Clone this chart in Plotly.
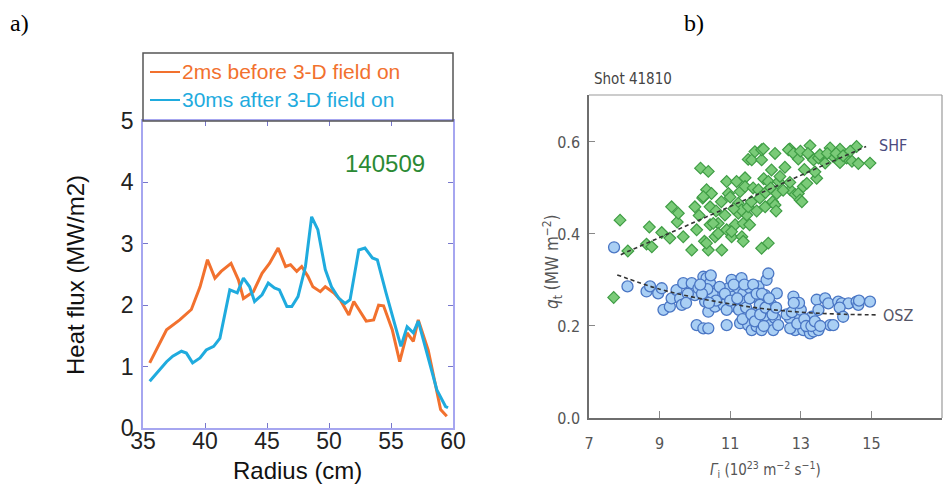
import plotly.graph_objects as go

W, H = 948, 484

# ---------------- Panel a data ----------------
radius_before = [35.54, 36.9, 37.96, 38.9, 39.6, 40.2, 40.8, 41.3, 42.1, 42.7, 43.1, 43.9, 44.6, 45.2,
                 45.9, 46.5, 46.9, 47.4, 47.8, 48.3, 48.7, 49.3, 49.7, 50.4, 50.9, 51.6, 52.0, 52.5,
                 53.0, 53.6, 54.0, 54.4, 55.1, 55.7, 56.3, 56.8, 57.2, 58.0, 59.0, 59.5]
flux_before = [1.06, 1.6, 1.76, 1.93, 2.30, 2.74, 2.44, 2.55, 2.68, 2.41, 2.11, 2.22, 2.52, 2.68,
               2.93, 2.63, 2.66, 2.55, 2.63, 2.47, 2.30, 2.22, 2.30, 2.20, 2.09, 1.84, 2.06, 1.90,
               1.74, 1.76, 2.0, 1.99, 1.60, 1.08, 1.55, 1.41, 1.76, 1.27, 0.30, 0.19]
radius_after = [35.54, 36.35, 36.9, 37.4, 38.1, 38.5, 39.0, 39.6, 40.1, 40.7, 41.2, 42.0, 42.6, 43.1,
                43.6, 44.0, 44.6, 45.1, 45.6, 46.0, 46.6, 47.0, 47.5, 48.1, 48.6, 49.1, 49.7, 50.2,
                50.8, 51.3, 51.7, 52.4, 52.9, 53.5, 53.9, 54.6, 55.1, 55.8, 56.3, 56.8, 57.2, 57.9,
                58.7, 59.4, 59.6]
flux_after = [0.76, 0.95, 1.08, 1.17, 1.25, 1.22, 1.06, 1.14, 1.27, 1.33, 1.46, 2.25, 2.20, 2.44,
              2.30, 2.06, 2.17, 2.36, 2.28, 2.25, 1.98, 1.98, 2.14, 2.63, 3.44, 3.23, 2.58, 2.30,
              2.11, 2.03, 2.09, 2.90, 2.93, 2.77, 2.74, 2.20, 1.82, 1.33, 1.65, 1.55, 1.74, 1.22,
              0.62, 0.35, 0.33]
name_before = "2ms before 3-D field on"
name_after = "30ms after 3-D field on"
shot_a = "140509"
xticks_a = [35, 40, 45, 50, 55, 60]
yticks_a = [0, 1, 2, 3, 4, 5]

# ---------------- Panel b data ----------------
shf_gamma = [7.70, 7.88, 8.10, 8.63, 8.71, 8.78, 9.06, 9.29, 9.34, 9.50, 9.53, 9.67, 9.91, 10.00,
             10.05, 10.16, 10.38, 10.22, 10.33, 10.47, 10.43, 10.27, 10.38, 10.43, 10.33, 10.24,
             10.12, 10.57, 10.66, 10.76, 10.85, 10.90, 10.95, 10.90, 11.04, 11.14, 11.18, 11.28,
             11.23, 11.33, 11.37, 11.42, 11.47, 11.51, 10.52, 10.66, 11.04, 11.23, 11.32, 11.37,
             11.42, 11.51, 10.60, 10.75, 11.00, 11.10, 11.60, 11.61, 11.65, 11.70, 11.75, 11.80,
             11.84, 11.89, 11.89, 11.94, 11.95, 11.99, 12.00, 12.08, 12.15, 12.17, 12.20, 12.27,
             12.27, 12.32, 12.37, 12.41, 11.89, 12.08, 12.69, 12.65, 12.79, 12.93, 12.99, 12.70,
             12.69, 12.84, 12.93, 12.98, 13.03, 13.07, 13.17, 13.26, 13.31, 13.36, 13.45, 13.50,
             13.54, 13.69, 13.83, 13.92, 14.11, 14.11, 14.30, 14.45, 14.58, 14.63, 14.96, 13.10,
             13.20, 12.55, 12.50, 13.40, 13.75, 14.00, 14.20, 14.40, 12.30, 11.55]
shf_q = [0.262, 0.430, 0.363, 0.378, 0.415, 0.372, 0.403, 0.391, 0.459, 0.426, 0.445, 0.394, 0.365,
         0.459, 0.409, 0.543, 0.536, 0.478, 0.496, 0.488, 0.459, 0.384, 0.365, 0.420, 0.380, 0.481,
         0.440, 0.394, 0.423, 0.365, 0.441, 0.514, 0.488, 0.409, 0.394, 0.420, 0.514, 0.492, 0.445,
         0.394, 0.384, 0.522, 0.441, 0.562, 0.423, 0.401, 0.405, 0.467, 0.452, 0.423, 0.503, 0.459,
         0.450, 0.470, 0.480, 0.455, 0.470, 0.561, 0.500, 0.579, 0.450, 0.496, 0.478, 0.561, 0.583,
         0.585, 0.520, 0.459, 0.490, 0.514, 0.500, 0.539, 0.470, 0.575, 0.463, 0.488, 0.514, 0.525,
         0.369, 0.380, 0.585, 0.583, 0.575, 0.563, 0.580, 0.496, 0.512, 0.486, 0.488, 0.474, 0.470,
         0.503, 0.510, 0.592, 0.567, 0.561, 0.521, 0.565, 0.572, 0.554, 0.587, 0.568, 0.584, 0.555,
         0.565, 0.558, 0.590, 0.553, 0.554, 0.540, 0.575, 0.545, 0.495, 0.535, 0.575, 0.575, 0.570,
         0.580, 0.450, 0.420]

osz_gamma = [7.71, 8.09, 8.63, 8.73, 8.96, 9.06, 9.11, 9.29, 9.34, 9.48, 9.58, 9.63, 9.67, 9.91,
             10.00, 10.05, 10.24, 10.38, 10.10, 10.24, 10.33, 10.43, 10.29, 10.38, 10.47, 10.57,
             10.62, 10.76, 10.81, 10.90, 10.95, 11.04, 11.09, 11.14, 11.23, 11.28, 11.32, 11.37,
             11.42, 11.47, 11.51, 11.56, 11.61, 11.66, 11.70, 11.75, 11.80, 11.84, 11.89, 11.94,
             11.99, 12.03, 12.08, 12.13, 12.17, 12.22, 12.27, 12.32, 12.36, 12.69, 12.79, 12.84,
             12.88, 12.98, 13.02, 13.07, 13.17, 13.21, 13.26, 13.31, 13.36, 13.45, 13.50, 13.50,
             13.69, 13.78, 13.83, 13.92, 14.06, 14.16, 14.35, 14.58, 14.63, 14.96,
             10.50, 10.60, 10.70, 10.85, 10.90, 11.00, 11.10, 11.20, 11.25, 11.35, 11.40, 11.45,
             11.55, 11.60, 11.65, 11.70, 11.75, 11.85, 11.90, 11.95, 12.00, 12.10, 12.20, 12.30,
             10.35, 10.40, 10.20, 10.15, 9.80, 9.75, 12.60, 12.70, 12.75, 12.90, 13.00, 13.10,
             13.15, 13.30, 13.40, 12.95, 13.55, 14.10, 14.65, 14.20, 12.80, 10.45]
osz_q = [0.371, 0.286, 0.275, 0.286, 0.271, 0.282, 0.235, 0.242, 0.260, 0.278, 0.260, 0.246, 0.293,
         0.293, 0.267, 0.202, 0.195, 0.195, 0.282, 0.307, 0.304, 0.293, 0.253, 0.231, 0.264, 0.242,
         0.278, 0.264, 0.246, 0.202, 0.282, 0.300, 0.264, 0.242, 0.282, 0.206, 0.304, 0.271, 0.253,
         0.220, 0.202, 0.282, 0.191, 0.264, 0.228, 0.199, 0.286, 0.246, 0.191, 0.217, 0.267, 0.300,
         0.314, 0.202, 0.246, 0.191, 0.217, 0.271, 0.202, 0.217, 0.264, 0.191, 0.242, 0.220, 0.206,
         0.191, 0.213, 0.195, 0.184, 0.220, 0.188, 0.257, 0.191, 0.235, 0.260, 0.249, 0.202, 0.202,
         0.253, 0.249, 0.249, 0.253, 0.246, 0.253,
         0.270, 0.255, 0.285, 0.270, 0.235, 0.255, 0.290, 0.260, 0.235, 0.215, 0.290, 0.240, 0.260,
         0.225, 0.290, 0.210, 0.270, 0.225, 0.270, 0.200, 0.240, 0.260, 0.225, 0.240, 0.280, 0.250,
         0.270, 0.290, 0.270, 0.250, 0.225, 0.195, 0.230, 0.205, 0.235, 0.215, 0.200, 0.200, 0.210,
         0.250, 0.200, 0.240, 0.255, 0.220, 0.250, 0.310]

shf_fit_gamma = [7.9, 14.85]
shf_fit_q = [0.355, 0.590]
osz_fit_gamma = [7.8, 9.0, 10.0, 11.0, 12.0, 13.0, 14.0, 15.2]
osz_fit_q = [0.311, 0.280, 0.262, 0.248, 0.237, 0.230, 0.226, 0.224]

xticks_b = [7, 9, 11, 13, 15, 17]
yticks_b = [0.0, 0.2, 0.4, 0.6]
ytick_text_b = ["0.0", "0.2", "0.4", "0.6"]
shot_b = "Shot 41810"

ORANGE = "#f2712e"
BLUE = "#1fabde"
GRAY_TXT = "#555555"
COND = "Liberation Sans Narrow, DejaVu Sans Condensed, Liberation Sans, Arial, sans-serif"
SANS = "Liberation Sans, Arial, sans-serif"


def px(x):
    return x / W


def py(y):
    return 1 - y / H


fig = go.Figure()

# Panel a lines
fig.add_trace(go.Scatter(x=radius_before, y=flux_before, mode="lines", name=name_before,
                         line=dict(color=ORANGE, width=3), xaxis="x", yaxis="y", showlegend=False))
fig.add_trace(go.Scatter(x=radius_after, y=flux_after, mode="lines", name=name_after,
                         line=dict(color=BLUE, width=3), xaxis="x", yaxis="y", showlegend=False))

# Panel b scatter
fig.add_trace(go.Scatter(x=shf_gamma, y=shf_q, mode="markers", name="SHF",
                         marker=dict(symbol="diamond", size=9, color="#7acb78",
                                     line=dict(color="#3f9d45", width=1.2)),
                         xaxis="x2", yaxis="y2", showlegend=False))
fig.add_trace(go.Scatter(x=osz_gamma, y=osz_q, mode="markers", name="OSZ",
                         marker=dict(symbol="circle", size=11, color="#a9cff4",
                                     line=dict(color="#4a76c4", width=1.3)),
                         xaxis="x2", yaxis="y2", showlegend=False))
fig.add_trace(go.Scatter(x=shf_fit_gamma, y=shf_fit_q, mode="lines",
                         line=dict(color="#333333", width=1.6, dash="4px,3px"),
                         xaxis="x2", yaxis="y2", showlegend=False))
fig.add_trace(go.Scatter(x=osz_fit_gamma, y=osz_fit_q, mode="lines", line_shape="spline",
                         line=dict(color="#333333", width=1.6, dash="4px,3px"),
                         xaxis="x2", yaxis="y2", showlegend=False))

fig.update_layout(
    width=W, height=H, margin=dict(l=0, r=0, t=0, b=0, autoexpand=False),
    paper_bgcolor="white", plot_bgcolor="white",
    xaxis=dict(domain=[px(143), px(453)], range=[35, 60], tickvals=xticks_a, automargin=False,
               showgrid=False, zeroline=False, showline=True, linecolor="#a6a6f0", linewidth=1.5,
               mirror="allticks", ticks="inside", ticklen=5, tickcolor="#7777cc",
               ticklabelstandoff=-8,
               tickfont=dict(family=SANS, size=23, color="#222222"), anchor="y"),
    yaxis=dict(domain=[py(428), py(121)], range=[0, 5], tickvals=yticks_a, automargin=False,
               showgrid=False, zeroline=False, showline=True, linecolor="#a6a6f0", linewidth=1.5,
               mirror="allticks", ticks="inside", ticklen=5, tickcolor="#7777cc",
               tickfont=dict(family=SANS, size=23, color="#222222"), anchor="x",
               ticklabelstandoff=3),
    xaxis2=dict(domain=[px(589), px(942)], range=[7, 17], tickvals=xticks_b, automargin=False,
                showgrid=False, zeroline=False, showline=True, linecolor="#6e6e6e", linewidth=1.5,
                ticks="inside", ticklen=7, tickcolor="#888888", ticklabelstandoff=10,
                tickfont=dict(family=COND, size=16, color=GRAY_TXT), anchor="y2"),
    yaxis2=dict(domain=[py(418), py(95)], range=[0, 0.702], tickvals=yticks_b, ticktext=ytick_text_b,
                automargin=False,
                showgrid=False, zeroline=False, showline=True, linecolor="#6e6e6e", linewidth=1.5,
                ticks="inside", ticklen=6, tickcolor="#888888", ticklabelstandoff=4,
                tickfont=dict(family=COND, size=16, color=GRAY_TXT), anchor="x2"),
)

shapes = [
    # legend box of panel a
    dict(type="rect", xref="paper", yref="paper", x0=px(143), x1=px(453), y0=py(121), y1=py(53),
         line=dict(color="#555555", width=1.5), fillcolor="rgba(0,0,0,0)", layer="above"),
    dict(type="line", xref="paper", yref="paper", x0=px(150), x1=px(180), y0=py(72), y1=py(72),
         line=dict(color=ORANGE, width=2)),
    dict(type="line", xref="paper", yref="paper", x0=px(150), x1=px(180), y0=py(100), y1=py(100),
         line=dict(color=BLUE, width=2)),
    # panel b top/right frame
    dict(type="line", xref="paper", yref="paper", x0=px(589), x1=px(942), y0=py(95), y1=py(95),
         line=dict(color="#9a9a9a", width=1.2)),
    dict(type="line", xref="paper", yref="paper", x0=px(942), x1=px(942), y0=py(95), y1=py(418),
         line=dict(color="#9a9a9a", width=1.2)),
]
fig.update_layout(shapes=shapes)

ann = [
    dict(text="a)", x=px(8), y=py(23), xanchor="left", yanchor="middle",
         font=dict(family="Liberation Serif, Times New Roman, serif", size=24, color="black")),
    dict(text="b)", x=px(682), y=py(23), xanchor="left", yanchor="middle",
         font=dict(family="Liberation Serif, Times New Roman, serif", size=24, color="black")),
    dict(text=name_before, x=px(180), y=py(72), xanchor="left", yanchor="middle",
         font=dict(family=SANS, size=21, color=ORANGE)),
    dict(text=name_after, x=px(180), y=py(100), xanchor="left", yanchor="middle",
         font=dict(family=SANS, size=21, color=BLUE)),
    dict(text=shot_a, x=px(385), y=py(163), xanchor="center", yanchor="middle",
         font=dict(family=SANS, size=24, color="#2b8a34")),
    dict(text="Heat flux (MW/m2)", x=px(75), y=py(275), xanchor="center", yanchor="middle",
         textangle=-90, font=dict(family=SANS, size=24, color="#111111")),
    dict(text="Radius (cm)", x=px(297), y=py(470), xanchor="center", yanchor="middle",
         font=dict(family=SANS, size=24, color="#111111")),
    dict(text=shot_b, x=px(592), y=py(79), xanchor="left", yanchor="middle",
         font=dict(family=COND, size=15, color="#444444")),
    dict(text="<i>q</i><sub>t</sub> (MW m<sup>−2</sup>)", x=px(552), y=py(262), xanchor="center",
         yanchor="middle", textangle=-90, font=dict(family=COND, size=17, color=GRAY_TXT)),
    dict(text="<i>Γ</i><sub>i</sub> (10<sup>23</sup> m<sup>−2</sup> s<sup>−1</sup>)", x=px(765), y=py(469),
         xanchor="center", yanchor="middle", font=dict(family=COND, size=15, color=GRAY_TXT)),
    dict(text="SHF", x=15.15, y=0.593, xref="x2", yref="y2", xanchor="left", yanchor="middle",
         showarrow=False, font=dict(family=COND, size=16, color="#4b4b7e")),
    dict(text="OSZ", x=15.28, y=0.222, xref="x2", yref="y2", xanchor="left", yanchor="middle",
         showarrow=False, font=dict(family=COND, size=16, color="#555566")),
]
for a in ann:
    a.setdefault("xref", "paper")
    a.setdefault("yref", "paper")
    a.setdefault("showarrow", False)
fig.update_layout(annotations=ann)

fig.write_html("out.html")
